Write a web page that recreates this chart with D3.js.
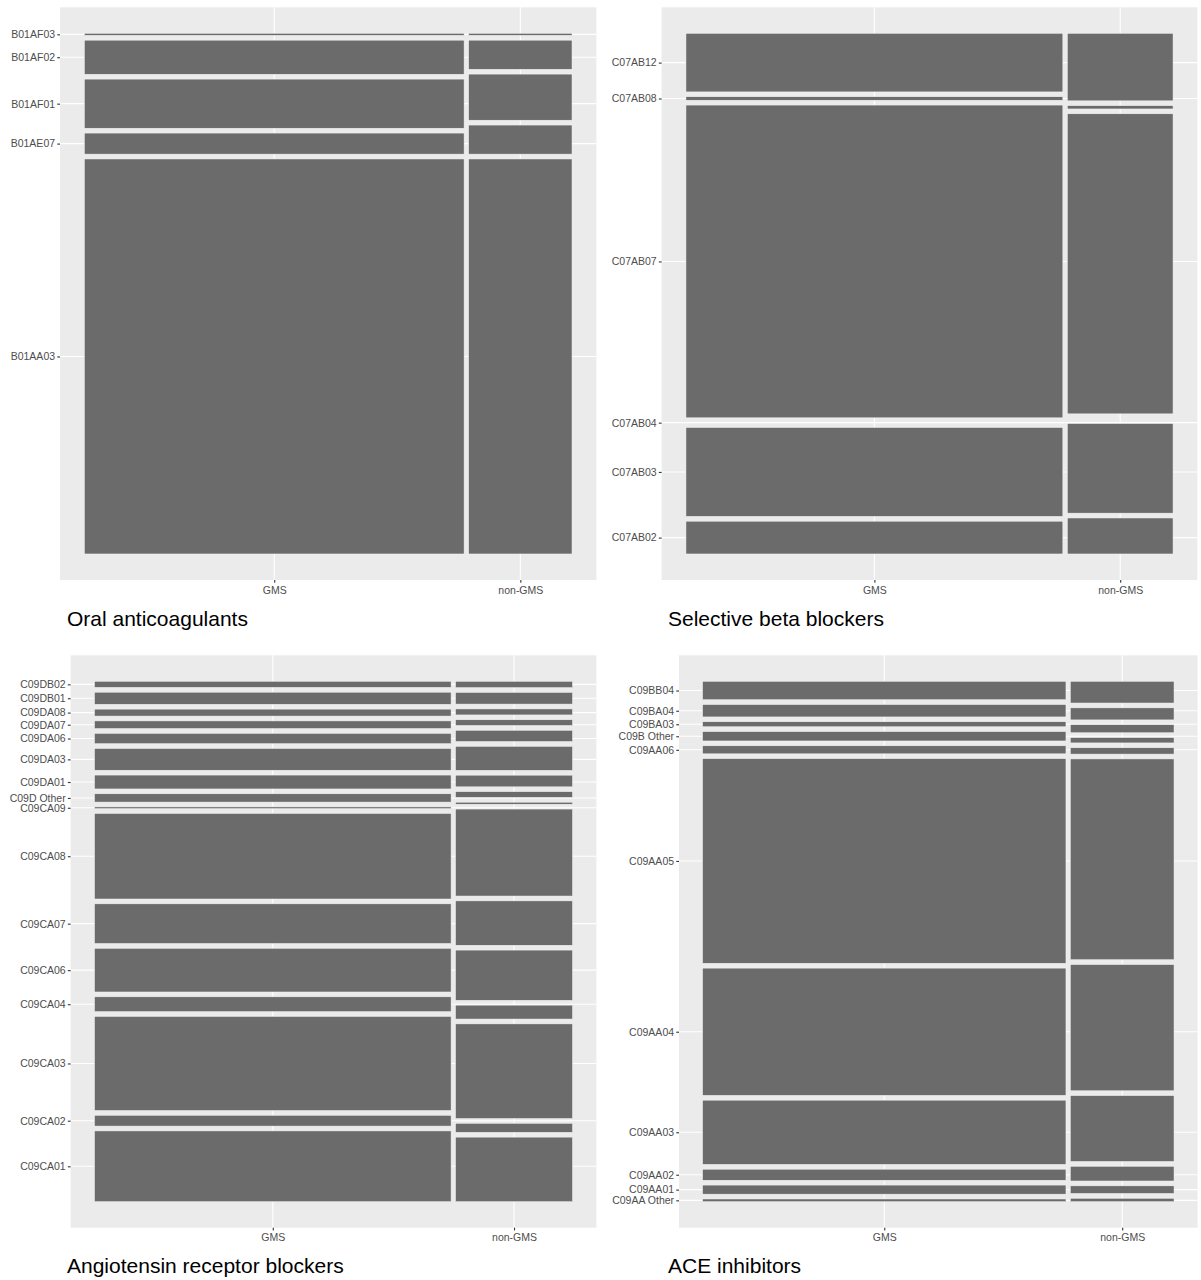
<!DOCTYPE html>
<html>
<head>
<meta charset="utf-8">
<script src="https://cdn.jsdelivr.net/npm/d3@7"></script>
<style>
  body { margin: 0; background: #fff; }
  text { font-family: "Liberation Sans", Arial, sans-serif; }
</style>
</head>
<body>
<div id="chart"></div>
<script>
// columns of every mosaic
const schemes = ["GMS", "non-GMS"];

// Oral anticoagulants (levels listed bottom -> top, % of items inside each scheme)
const oacCodes  = ["B01AA03", "B01AE07", "B01AF01", "B01AF02", "B01AF03"];
const oacGMS    = [78.8, 4.2, 9.8, 6.8, 0.4];
const oacNonGMS = [78.8, 5.8, 9.2, 5.8, 0.4];
const oacSplit  = [78.6, 21.4];   // % of all items per scheme

// Selective beta blockers
const bbCodes  = ["C07AB02", "C07AB03", "C07AB04", "C07AB07", "C07AB08", "C07AB12"];
const bbGMS    = [6.6, 17.9, 0, 63.0, 0.7, 11.8];
const bbNonGMS = [7.25, 18.05, 0, 60.45, 0.66, 13.6];
const bbSplit  = [78.1, 21.9];

// Angiotensin receptor blockers
const arbCodes  = ["C09CA01", "C09CA02", "C09CA03", "C09CA04", "C09CA06", "C09CA07", "C09CA08", "C09CA09",
                   "C09D Other", "C09DA01", "C09DA03", "C09DA06", "C09DA07", "C09DA08", "C09DB01", "C09DB02"];
const arbGMS    = [15.8, 2.4, 21.0, 3.3, 9.75, 8.85, 19.1, 0.38, 1.85, 3.1, 4.85, 2.3, 1.7, 1.55, 2.7, 1.35];
const arbNonGMS = [14.4, 2.0, 21.1, 3.1, 11.2, 9.9, 19.4, 0.45, 1.27, 2.6, 5.35, 2.5, 1.27, 1.34, 2.6, 1.4];
const arbSplit  = [75.3, 24.7];

// ACE inhibitors
const aceCodes  = ["C09AA Other", "C09AA01", "C09AA02", "C09AA03", "C09AA04", "C09AA05", "C09AA06",
                   "C09B Other", "C09BA03", "C09BA04", "C09BB04"];
const aceGMS    = [0.57, 1.92, 2.34, 13.6, 26.95, 43.35, 1.7, 1.98, 1.06, 2.62, 3.9];
const aceNonGMS = [0.72, 1.61, 3.12, 13.95, 26.75, 42.55, 1.34, 1.13, 1.7, 2.55, 4.6];
const aceSplit  = [77.8, 22.2];

let svg = d3.select("#chart")
    .append("svg")
        .attr("width", 1201)
        .attr("height", 1280)
        .style("display", "block")
        .style("background", "#fff");

function mosaic(frame, title, codes, gms, nonGms, split) {
    let gap = 0.0093;
    let x = d3.scaleLinear().domain([-0.05, 1.05]).range([frame.left, frame.right]);
    let y = d3.scaleLinear().domain([-0.05, 1.05]).range([frame.bottom, frame.top]);
    let g = svg.append("g");

    // panel background
    g.append("rect")
        .attr("x", frame.left)
        .attr("y", frame.top)
        .attr("width", frame.right - frame.left)
        .attr("height", frame.bottom - frame.top)
        .attr("fill", "#ebebeb");

    // tiles
    let total = d3.sum(split);
    let cells = [];
    let cols = [];
    let cx = 0;
    [gms, nonGms].forEach(function(vals, j) {
        let w = split[j] / total * (1 - gap * (split.length - 1));
        let sum = d3.sum(vals);
        let avail = 1 - gap * (vals.length - 1);
        let cy = 0;
        vals.forEach(function(v, i) {
            let h = v / sum * avail;
            cells.push({col: j, row: i, x0: cx, x1: cx + w, y0: cy, y1: cy + h});
            cy += h + gap;
        });
        cols.push((cx + cx + w) / 2);
        cx += w + gap;
    });
    let rowMid = cells.filter(d => d.col === 0).map(d => (d.y0 + d.y1) / 2);

    // grid
    g.selectAll(".hgrid")
        .data(rowMid)
        .enter()
        .append("line")
        .attr("x1", frame.left).attr("x2", frame.right)
        .attr("y1", d => y(d)).attr("y2", d => y(d))
        .attr("stroke", "#fff").attr("stroke-width", 1.1);
    g.selectAll(".vgrid")
        .data(cols)
        .enter()
        .append("line")
        .attr("y1", frame.top).attr("y2", frame.bottom)
        .attr("x1", d => x(d)).attr("x2", d => x(d))
        .attr("stroke", "#fff").attr("stroke-width", 1.1);

    g.selectAll(".tile")
        .data(cells)
        .enter()
        .append("rect")
        .attr("x", d => x(d.x0))
        .attr("y", d => y(d.y1))
        .attr("width", d => x(d.x1) - x(d.x0))
        .attr("height", d => y(d.y0) - y(d.y1))
        .attr("fill", "#6b6b6b")
        .attr("stroke", "#f4f4f4")
        .attr("stroke-width", d => (d.y1 - d.y0) > 0 ? 0.5 : 0);

    // Y axis
    let yAxis = g.append("g")
        .attr("transform", "translate(" + frame.left + ",0)")
        .call(d3.axisLeft(y)
            .tickValues(rowMid)
            .tickFormat((d, i) => codes[i])
            .tickSize(2.75)
            .tickPadding(2.2));

    // X axis
    let xAxis = g.append("g")
        .attr("transform", "translate(0," + frame.bottom + ")")
        .call(d3.axisBottom(x)
            .tickValues(cols)
            .tickFormat((d, i) => schemes[i])
            .tickSize(2.75)
            .tickPadding(3.6));

    [yAxis, xAxis].forEach(function(a) {
        a.select(".domain").remove();
        a.selectAll("line").attr("stroke", "#333").attr("stroke-width", 1.1);
        a.selectAll("text")
            .attr("fill", "#4d4d4d")
            .style("font-size", "10.5px")
            .style("font-family", "'Liberation Sans', Arial, sans-serif");
    });

    // caption
    svg.append("text")
        .attr("x", frame.titleX)
        .attr("y", frame.titleY)
        .attr("fill", "#000")
        .style("font-size", "21px")
        .text(title);
}

mosaic({left: 60, right: 596.4, top: 7.3, bottom: 580, titleX: 67, titleY: 626},
    "Oral anticoagulants", oacCodes, oacGMS, oacNonGMS, oacSplit);
mosaic({left: 661.6, right: 1197.4, top: 7.3, bottom: 580, titleX: 668, titleY: 626},
    "Selective beta blockers", bbCodes, bbGMS, bbNonGMS, bbSplit);
mosaic({left: 70.6, right: 596.4, top: 655.3, bottom: 1227.7, titleX: 67, titleY: 1273},
    "Angiotensin receptor blockers", arbCodes, arbGMS, arbNonGMS, arbSplit);
mosaic({left: 679, right: 1197.6, top: 655.3, bottom: 1227.7, titleX: 668, titleY: 1273},
    "ACE inhibitors", aceCodes, aceGMS, aceNonGMS, aceSplit);
</script>
</body>
</html>
